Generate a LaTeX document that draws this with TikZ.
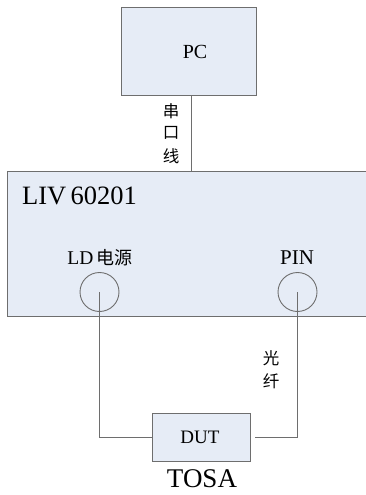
\documentclass[tikz,border=0pt]{standalone}
\usepackage{fontspec}
\setmainfont{Liberation Serif}
\newfontfamily\cjk{Noto Sans CJK SC}
\definecolor{boxfill}{HTML}{E6ECF6}
\definecolor{linegray}{HTML}{6E6E6E}
\tikzset{
  box/.style={draw=linegray, line width=1pt, fill=boxfill, inner sep=0pt},
  openbox/.style={fill=boxfill, inner sep=0pt},
  port/.style={draw=linegray, line width=0.9pt, circle, minimum size=39pt, inner sep=0pt},
  wire/.style={draw=linegray, line width=1pt},
  lbl/.style={inner sep=0pt, text=black},
}
\newcommand{\fs}[1]{\fontsize{#1}{#1}\selectfont}
\begin{document}
\begin{tikzpicture}[x=1pt,y=-1pt]
\useasboundingbox (0,0) rectangle (366,495);
\clip (0,0) rectangle (366,495);
% PC box
\node[box, minimum width=135pt, minimum height=87pt] (pc) at (188.5,51.5) {};
\node[lbl] (pctext) at (195,52) {\fs{20}PC};
% LIV box (runs past the right edge of the picture)
\node[openbox, minimum width=400pt, minimum height=144pt] (liv) at (208,244) {};
\draw[wire] (liv.north east) -- (liv.north west) -- (liv.south west) -- (liv.south east);
\node[lbl, anchor=base west] (livtext) at (22,204) {\fs{26.5}LIV\,60201};
% serial line
\draw[wire] ([xshift=2.5pt]pc.south) -- ([xshift=2.5pt]pc.south |- liv.north);
\node[lbl] (c1) at (171,111) {\cjk\fs{16.5}串};
\node[lbl] (c2) at (171,133) {\cjk\fs{16.5}口};
\node[lbl] (c3) at (171,156) {\cjk\fs{16.5}线};
% ports
\node[lbl, anchor=base] (ldtext) at (100,264) {\fs{19.5}LD\,{\cjk\fs{18}电源}};
\node[lbl, anchor=base] (pintext) at (297,264) {\fs{21}PIN};
\node[port] (ld) at (99.5,292) {};
\node[port] (pin) at (297.5,292) {};
% DUT
\node[box, minimum width=98pt, minimum height=48pt] (dut) at (201,437) {};
\node[lbl] (duttext) at (200,437) {\fs{19}DUT};
\node[lbl] (tosa) at (202,479) {\fs{27}TOSA};
% wires
\draw[wire] (ld.center) |- (dut.west);
\draw[wire] (pin.center) |- ([xshift=4pt]dut.east);
\node[lbl] (g1) at (271,358) {\cjk\fs{16.5}光};
\node[lbl] (g2) at (271,381) {\cjk\fs{16.5}纤};
\end{tikzpicture}
\end{document}
